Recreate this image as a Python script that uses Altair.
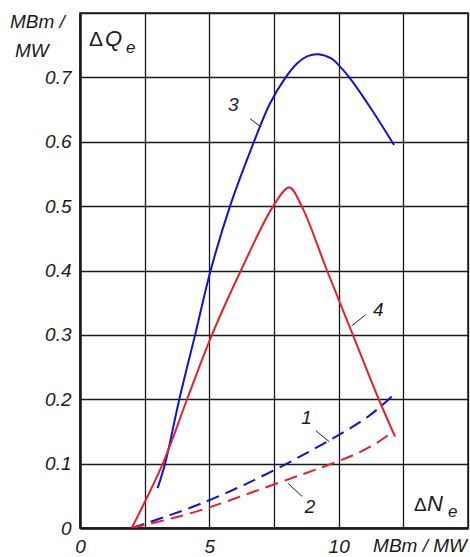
import altair as alt
import pandas as pd

# ---- data ----
c1_x = [2.0, 3.5, 5.0, 7.5, 10.0, 11.25, 12.2]
c1_y = [0.0, 0.020, 0.042, 0.088, 0.144, 0.174, 0.210]

c2_x = [2.0, 3.5, 5.0, 7.5, 10.0, 11.25, 12.12]
c2_y = [0.0, 0.014, 0.031, 0.068, 0.103, 0.125, 0.150]

c3_x = [3.0, 3.29, 3.84, 4.45, 5.05, 5.8, 6.6, 7.34, 7.95, 8.4, 8.8, 9.21, 9.73, 10.0, 10.41, 11.21, 12.14]
c3_y = [0.062, 0.10, 0.20, 0.30, 0.40, 0.50, 0.587, 0.659, 0.70, 0.722, 0.733, 0.736, 0.729, 0.719, 0.70, 0.654, 0.595]

c4_x = [2.0, 3.2, 4.14, 5.1, 6.22, 7.47, 8.09, 8.57, 9.55, 10.55, 11.55, 12.18]
c4_y = [0.0, 0.10, 0.20, 0.30, 0.40, 0.50, 0.529, 0.50, 0.40, 0.30, 0.20, 0.142]

curve_labels = ["1", "2", "3", "4"]
label_x = [8.76, 8.89, 5.93, 11.53]
label_y = [0.171, 0.033, 0.657, 0.339]
leader_x1 = [9.12, 8.05, 6.57, 11.04]
leader_y1 = [0.151, 0.069, 0.636, 0.331]
leader_x2 = [9.64, 8.59, 6.96, 10.50]
leader_y2 = [0.134, 0.049, 0.624, 0.314]

x_ticks = [0, 2.5, 5, 7.5, 10, 12.5, 15]
y_ticks = [0, 0.1, 0.2, 0.3, 0.4, 0.5, 0.6, 0.7, 0.8]

FONT = "Liberation Sans"
BLUE = "#1212d6"
RED = "#e4202a"
INK = "#1a1a1a"

def frame(xs, ys, name):
    return pd.DataFrame({"x": xs, "y": ys, "curve": name})

d1 = frame(c1_x, c1_y, "1")
d2 = frame(c2_x, c2_y, "2")
d3 = frame(c3_x, c3_y, "3")
d4 = frame(c4_x, c4_y, "4")

xs = alt.Scale(domain=[0, 15], nice=False, zero=False)
ys = alt.Scale(domain=[0, 0.8], nice=False, zero=False)

xaxis = alt.Axis(values=x_ticks, grid=True, ticks=False, domain=True,
                 domainColor=INK, domainWidth=2.5, title=None,
                 labelExpr="(datum.value==0||datum.value==5||datum.value==10) ? format(datum.value,'d') : ''",
                 labelFont=FONT, labelFontStyle="italic", labelFontSize=19,
                 labelColor=INK, labelPadding=9, labelOverlap=False, labelFlush=False,
                 gridColor=INK, gridWidth=1.3, gridOpacity=1)
yaxis = alt.Axis(values=y_ticks, grid=True, ticks=False, domain=True,
                 domainColor=INK, domainWidth=2.5, title=None,
                 labelExpr="datum.value==0 ? '0' : (datum.value>0.75 ? '' : format(datum.value,'.1f'))",
                 labelFont=FONT, labelFontStyle="italic", labelFontSize=19,
                 labelColor=INK, labelPadding=9, labelOverlap=False, labelFlush=False,
                 gridColor=INK, gridWidth=1.3, gridOpacity=1)

base_x = alt.X("x:Q", scale=xs, axis=xaxis)
base_y = alt.Y("y:Q", scale=ys, axis=yaxis)

def line(df, color, interp, dash=None):
    kw = dict(color=color, strokeWidth=2, interpolate=interp, clip=True)
    if dash:
        kw["strokeDash"] = dash
    return alt.Chart(df).mark_line(**kw).encode(x=base_x, y=base_y)

l1 = line(d1, BLUE, "basis", [13, 7])
l2 = line(d2, RED, "basis", [13, 7])
l3 = line(d3, BLUE, "catmull-rom")
l4 = line(d4, RED, "catmull-rom")

lab_df = pd.DataFrame({"t": curve_labels, "x": label_x, "y": label_y,
                       "x1": leader_x1, "y1": leader_y1, "x2": leader_x2, "y2": leader_y2})
leaders = alt.Chart(lab_df).mark_rule(color=INK, strokeWidth=1).encode(
    x=alt.X("x1:Q", scale=xs), y=alt.Y("y1:Q", scale=ys), x2="x2:Q", y2="y2:Q")
labels = alt.Chart(lab_df).mark_text(font=FONT, fontStyle="italic", fontSize=19,
                                     color=INK, align="center", baseline="middle").encode(
    x=alt.X("x:Q", scale=xs), y=alt.Y("y:Q", scale=ys), text="t:N")

def txt(s, px, py, size=19, style="italic", align="left"):
    return alt.Chart(pd.DataFrame({"t": [s]})).mark_text(
        font=FONT, fontStyle=style, fontSize=size, color=INK, align=align,
        baseline="alphabetic").encode(x=alt.value(px), y=alt.value(py), text="t:N")

annots = [
    txt("MBm /", -70, 15),
    txt("MW", -65, 44),
    txt("\u0394", 9, 33, size=21, style="normal"),
    txt("Q", 25, 33, size=22),
    txt("e", 46, 40, size=17),
    txt("\u0394", 334, 498, size=19, style="normal"),
    txt("N", 347, 498, size=22),
    txt("e", 368, 504, size=17),
    txt("MBm / MW", 387, 539, align="right"),
]

chart = alt.layer(l1, l2, l3, l4, leaders, labels, *annots).properties(
    width=388, height=515,
    autosize=alt.AutoSizeParams(type="none"),
    padding={"left": 80, "top": 13, "right": 2, "bottom": 29},
    background="white",
).configure_view(stroke=INK, strokeWidth=1.5)

chart.save("out.html", embed_options={"renderer": "svg", "actions": False})
